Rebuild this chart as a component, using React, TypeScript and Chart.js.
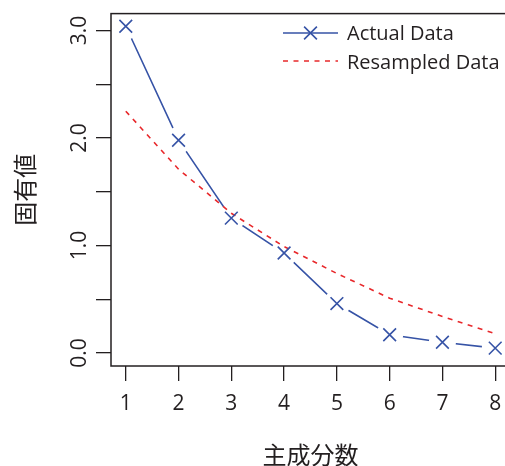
import React, { useEffect, useRef } from 'react';
import { Chart, registerables } from 'chart.js';

Chart.register(...registerables);

// ---- data ----
const components = [1, 2, 3, 4, 5, 6, 7, 8];
const actualData = [3.04, 1.98, 1.255, 0.93, 0.46, 0.17, 0.10, 0.045];
const resampledData = [2.25, 1.71, 1.30, 0.99, 0.74, 0.51, 0.34, 0.18];
const yTickValues = [0, 0.5, 1, 1.5, 2, 2.5, 3];
const seriesLabels = ['Actual Data', 'Resampled Data'];
const xTitle = '主成分数';
const yTitle = '固有値';

// ---- styles ----
const BLUE = '#3653a6';
const RED = '#e8282b';
const INK = '#231f20';
const LATIN = '"Open Sans", "DejaVu Sans", sans-serif';
const CJK = '"Noto Sans CJK JP", "Noto Sans CJK SC", sans-serif';

const toPoints = (vals: number[]) => components.map((c, i) => ({ x: c, y: vals[i] }));

const boxPlugin = {
  id: 'rBox',
  afterDatasetsDraw(chart: any) {
    const { ctx, chartArea } = chart;
    ctx.save();
    ctx.strokeStyle = INK;
    ctx.lineWidth = 1.5;
    ctx.strokeRect(chartArea.left, chartArea.top, chartArea.right - chartArea.left, chartArea.bottom - chartArea.top);
    ctx.restore();
  },
};

const legendPlugin = {
  id: 'rLegend',
  afterDraw(chart: any) {
    const ctx = chart.ctx;
    const items = [
      { label: seriesLabels[0], color: BLUE, dash: [] as number[], marker: true, lineY: 33, textY: 39.5 },
      { label: seriesLabels[1], color: RED, dash: [5, 5.5], marker: false, lineY: 61, textY: 69 },
    ];
    const x0 = 283;
    const x1 = 338;
    ctx.save();
    for (const it of items) {
      ctx.strokeStyle = it.color;
      ctx.lineWidth = 1.6;
      ctx.setLineDash(it.dash);
      ctx.beginPath();
      ctx.moveTo(x0, it.lineY);
      ctx.lineTo(x1, it.lineY);
      ctx.stroke();
      ctx.setLineDash([]);
      if (it.marker) {
        const cx = (x0 + x1) / 2;
        const r = 6.4;
        ctx.beginPath();
        ctx.moveTo(cx - r, it.lineY - r);
        ctx.lineTo(cx + r, it.lineY + r);
        ctx.moveTo(cx - r, it.lineY + r);
        ctx.lineTo(cx + r, it.lineY - r);
        ctx.stroke();
      }
      ctx.fillStyle = INK;
      ctx.font = `20px ${LATIN}`;
      ctx.textAlign = 'left';
      ctx.textBaseline = 'alphabetic';
      ctx.fillText(it.label, 347, it.textY);
    }
    ctx.restore();
  },
};

export default function App() {
  const ref = useRef<HTMLCanvasElement>(null);

  useEffect(() => {
    const canvas = ref.current;
    if (!canvas) return;
    const chart = new Chart(canvas, {
      type: 'line',
      data: {
        datasets: [
          {
            label: seriesLabels[0],
            data: toPoints(actualData),
            borderColor: BLUE,
            borderWidth: 1.6,
            pointRadius: 0,
            fill: false,
            tension: 0,
            order: 4,
          },
          {
            label: 'mask',
            data: toPoints(actualData),
            showLine: false,
            pointRadius: 13.5,
            pointBackgroundColor: '#ffffff',
            pointBorderWidth: 0,
            pointBorderColor: '#ffffff',
            order: 3,
          },
          {
            label: seriesLabels[1],
            data: toPoints(resampledData),
            borderColor: RED,
            borderWidth: 1.6,
            borderDash: [5, 5.5],
            pointRadius: 0,
            fill: false,
            tension: 0,
            order: 2,
          },
          {
            label: 'markers',
            data: toPoints(actualData),
            showLine: false,
            pointStyle: 'crossRot',
            pointRadius: 9,
            pointBorderColor: BLUE,
            pointBorderWidth: 1.6,
            order: 1,
          },
        ],
      } as any,
      options: {
        responsive: false,
        devicePixelRatio: 1,
        animation: false,
        events: [],
        layout: { padding: { left: 0, top: 13, right: 20, bottom: 0 } },
        plugins: {
          legend: { display: false },
          tooltip: { enabled: false },
        },
        scales: {
          x: {
            type: 'linear',
            min: 0.72,
            max: 8.28,
            afterBuildTicks: (s: any) => {
              s.ticks = components.map((v) => ({ value: v }));
            },
            afterFit: (s: any) => {
              s.height = 114;
            },
            border: { display: false },
            grid: { drawOnChartArea: false, drawTicks: true, tickLength: 15, color: INK, lineWidth: 1.3 },
            ticks: {
              autoSkip: false,
              maxRotation: 0,
              minRotation: 0,
              padding: 10,
              color: INK,
              font: { family: LATIN, size: 21 },
              callback: (v: any) => String(v),
            },
            title: {
              display: true,
              text: xTitle,
              color: INK,
              font: { family: CJK, size: 24 },
              padding: { top: 0, bottom: 10.6 },
            },
          },
          y: {
            type: 'linear',
            min: -0.121,
            max: 3.158,
            afterBuildTicks: (s: any) => {
              s.ticks = yTickValues.map((v) => ({ value: v }));
            },
            afterFit: (s: any) => {
              s.width = 111;
            },
            border: { display: false },
            grid: { drawOnChartArea: false, drawTicks: true, tickLength: 15, color: INK, lineWidth: 1.3 },
            ticks: {
              autoSkip: false,
              minRotation: 90,
              maxRotation: 90,
              crossAlign: 'center',
              padding: 1,
              color: INK,
              font: { family: LATIN, size: 21 },
              callback: (v: any) => (Number.isInteger(Number(v)) ? Number(v).toFixed(1) : ''),
            },
            title: {
              display: true,
              text: yTitle,
              color: INK,
              font: { family: CJK, size: 24 },
              padding: { top: 10.6, bottom: 0 },
            },
          },
        },
      } as any,
      plugins: [boxPlugin, legendPlugin],
    });
    return () => chart.destroy();
  }, []);

  return (
    <div
      style={{
        position: 'fixed',
        left: 0,
        top: 0,
        width: 505,
        height: 466,
        overflow: 'hidden',
        background: '#ffffff',
      }}
    >
      <canvas ref={ref} width={530} height={480} style={{ display: 'block', width: 530, height: 480 }} />
    </div>
  );
}
